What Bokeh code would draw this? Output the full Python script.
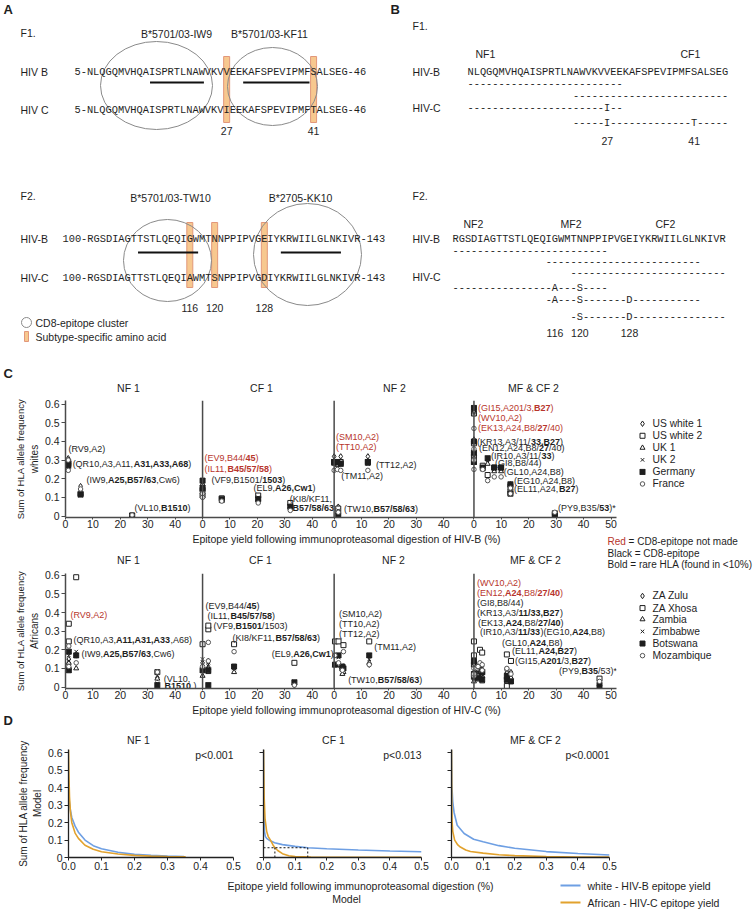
from bokeh.plotting import figure
from bokeh.layouts import column, row
from bokeh.models import (Range1d, LinearAxis, FixedTicker, NumeralTickFormatter,
                          Span, Label, ColumnDataSource)
from bokeh.core.properties import value
from bokeh.embed import file_html
from bokeh.resources import INLINE

# ============================================================ DATA
# Panel A / B : sequences (Gag fragments)
F1_START, F1_END = 5, 46
F1_HIVB = "NLQGQMVHQAISPRTLNAWVKVVEEKAFSPEVIPMFSALSEG"
F1_HIVC = "NLQGQMVHQAISPRTLNAWVKVIEEKAFSPEVIPMFTALSEG"
F2_START, F2_END = 100, 143
F2_HIVB = "RGSDIAGTTSTLQEQIGWMTNNPPIPVGEIYKRWIILGLNKIVR"
F2_HIVC = "RGSDIAGTTSTLQEQIAWMTSNPPIPVGDIYKRWIILGLNKIVR"

F1_EPITOPES = ["B*5701/03-IW9", "B*5701/03-KF11"]
F1_EPITOPE_RES = [(15, 23), (30, 40)]
F2_EPITOPES = ["B*5701/03-TW10", "B*2705-KK10"]
F2_EPITOPE_RES = [(108, 117), (131, 140)]

F1_FRAGMENTS = ["NF1", "CF1"]
F1_FRAGMENT_RES = [(5, 29), (22, 46)]
F2_FRAGMENTS = ["NF2", "MF2", "CF2"]
F2_FRAGMENT_RES = [(100, 124), (115, 139), (119, 143)]

# Panel C : segments and populations
SEGMENTS = ["NF 1", "CF 1", "NF 2", "MF & CF 2"]
SEG_TICKS = [[0, 10, 20, 30, 40], [0, 10, 20, 30, 40], [0, 10, 20, 30, 40], [0, 10, 20, 30, 40, 50]]
POPS_WHITE = ["US white 1", "US white 2", "UK 1", "UK 2", "Germany", "France"]
POPS_AFRICAN = ["ZA Zulu", "ZA Xhosa", "Zambia", "Zimbabwe", "Botswana", "Mozambique"]

# whites (HIV-B yields, %); rows = populations in POPS_WHITE order
W_NF1_EPI = ["RV9", "QR10", "IW9", "VL10"]
W_NF1_X = [1.0, 1.0, 5.5, 24.3]
W_NF1_Y = [[0.31, 0.28, 0.16, 0.003], [0.29, 0.28, 0.12, 0.003], [0.30, 0.27, 0.12, 0.0],
           [0.29, 0.27, 0.11, 0.002], [0.28, 0.27, 0.115, 0.002], [0.30, 0.245, 0.145, 0.005]]
W_CF1_EPI = ["EV9", "IL11", "VF9", "EL9", "KI8/KF11"]
W_CF1_X = [0.0, 0.0, 7.0, 20.3, 32.0]
W_CF1_Y = [[0.18, 0.12, 0.09, 0.08, 0.06], [0.14, 0.11, 0.095, 0.11, 0.07], [0.17, 0.13, 0.08, 0.09, 0.05],
           [0.16, 0.12, 0.085, 0.10, 0.04], [0.19, 0.15, 0.09, 0.09, 0.05], [0.12, 0.10, 0.08, 0.07, 0.03]]
W_NF2_EPI = ["SM10", "TT10", "TM11", "TT12", "TW10"]
W_NF2_X = [0.0, 1.2, 2.4, 12.3, 1.5]
W_NF2_Y = [[0.32, 0.29, 0.32, 0.32, 0.05], [0.29, 0.28, 0.29, 0.29, 0.04], [0.28, 0.29, 0.28, 0.28, 0.02],
           [0.29, 0.28, 0.29, 0.28, 0.03], [0.29, 0.29, 0.28, 0.29, 0.01], [0.245, 0.25, 0.245, 0.245, 0.02]]
W_MF_EPI = ["GI15", "WV10", "EK13", "KR13", "EN12", "IR10", "GI8", "GL10", "EG10", "EL11", "PY9"]
W_MF_X = [0.0, 0.0, 0.0, 0.0, 3.2, 5.0, 7.4, 9.9, 13.3, 13.3, 29.5]
W_MF_Y = [[0.57, 0.30, 0.33, 0.40, 0.26, 0.30, 0.25, 0.25, 0.17, 0.14, 0.01],
          [0.55, 0.29, 0.32, 0.39, 0.27, 0.22, 0.26, 0.26, 0.16, 0.13, 0.015],
          [0.56, 0.31, 0.35, 0.41, 0.25, 0.28, 0.24, 0.24, 0.15, 0.12, 0.005],
          [0.55, 0.30, 0.33, 0.40, 0.26, 0.31, 0.25, 0.25, 0.17, 0.13, 0.01],
          [0.58, 0.29, 0.34, 0.40, 0.26, 0.31, 0.26, 0.26, 0.17, 0.12, 0.005],
          [0.47, 0.25, 0.30, 0.36, 0.25, 0.19, 0.21, 0.21, 0.15, 0.12, 0.02]]

# Africans (HIV-C yields, %); rows = populations in POPS_AFRICAN order
A_NF1_EPI = ["RV9", "QR10", "IW9", "VL10"]
A_NF1_X = [1.2, 1.2, 3.9, 33.5]
A_NF1_Y = [[0.15, 0.12, 0.17, 0.05], [0.34, 0.245, 0.59, 0.08], [0.13, 0.10, 0.10, 0.045],
           [0.17, 0.14, 0.19, 0.02], [0.19, 0.09, 0.17, 0.01], [0.22, 0.11, 0.13, 0.08]]
A_CF1_EPI = ["EV9", "IL11", "VF9", "KI8/KF11", "EL9"]
A_CF1_X = [0.0, 2.1, 2.1, 11.5, 33.5]
A_CF1_Y = [[0.13, 0.10, 0.14, 0.10, 0.01], [0.23, 0.31, 0.33, 0.23, 0.13], [0.06, 0.08, 0.10, 0.08, 0.02],
           [0.15, 0.12, 0.13, 0.10, 0.03], [0.09, 0.01, 0.09, 0.11, 0.025], [0.11, 0.14, 0.24, 0.19, 0.01]]
A_NF2_EPI = ["SM10", "TT10", "TT12", "TM11", "TW10"]
A_NF2_X = [0.3, 1.6, 3.4, 12.8, 3.0]
A_NF2_Y = [[0.17, 0.12, 0.11, 0.12, 0.09], [0.245, 0.245, 0.225, 0.245, 0.10], [0.12, 0.12, 0.08, 0.13, 0.07],
           [0.17, 0.16, 0.11, 0.15, 0.10], [0.12, 0.17, 0.10, 0.17, 0.11], [0.17, 0.13, 0.19, 0.12, 0.09]]
A_MF_EPI = ["WV10", "EN12", "GI8", "KR13", "EK13", "IR10", "EG10", "GL10", "EL11", "GI15", "PY9"]
A_MF_X = [0.0, 0.0, 2.2, 0.0, 3.0, 1.5, 3.0, 12.0, 12.0, 13.5, 45.8]
A_MF_Y = [[0.15, 0.08, 0.10, 0.04, 0.09, 0.06, 0.05, 0.08, 0.02, 0.08, 0.03],
          [0.245, 0.17, 0.20, 0.12, 0.185, 0.10, 0.08, 0.175, 0.005, 0.14, 0.045],
          [0.12, 0.05, 0.08, 0.03, 0.06, 0.04, 0.03, 0.05, 0.03, 0.05, 0.015],
          [0.13, 0.09, 0.12, 0.05, 0.10, 0.08, 0.06, 0.07, 0.05, 0.06, 0.02],
          [0.14, 0.07, 0.11, 0.06, 0.08, 0.05, 0.04, 0.04, 0.06, 0.03, 0.01],
          [0.10, 0.06, 0.13, 0.07, 0.12, 0.11, 0.09, 0.095, 0.10, 0.07, 0.03]]

# Panel D : model curves (yield fraction vs summed allele frequency)
D_PANELS = ["NF 1", "CF 1", "MF & CF 2"]
D_PVALUES = ["p<0.001", "p<0.013", "p<0.0001"]
D_NF1_WHITE_X = [0.0, 0.002, 0.005, 0.01, 0.02, 0.03, 0.05, 0.075, 0.1, 0.15, 0.2, 0.25, 0.3, 0.35]
D_NF1_WHITE_Y = [0.37, 0.33, 0.28, 0.23, 0.18, 0.145, 0.10, 0.068, 0.05, 0.03, 0.018, 0.012, 0.008, 0.006]
D_NF1_AFR_X = [0.0, 0.001, 0.003, 0.006, 0.01, 0.02, 0.03, 0.05, 0.075, 0.1, 0.15, 0.2, 0.25, 0.3, 0.355]
D_NF1_AFR_Y = [0.62, 0.50, 0.35, 0.26, 0.20, 0.14, 0.11, 0.07, 0.047, 0.033, 0.02, 0.012, 0.008, 0.005, 0.004]
D_CF1_WHITE_X = [0.0, 0.001, 0.003, 0.006, 0.01, 0.02, 0.035, 0.06, 0.1, 0.14, 0.2, 0.3, 0.4, 0.5]
D_CF1_WHITE_Y = [0.62, 0.30, 0.15, 0.12, 0.11, 0.097, 0.085, 0.074, 0.064, 0.056, 0.05, 0.043, 0.037, 0.033]
D_CF1_AFR_X = [0.0, 0.002, 0.005, 0.01, 0.015, 0.02, 0.025, 0.03, 0.036, 0.045, 0.06, 0.08, 0.1, 0.15, 0.5]
D_CF1_AFR_Y = [0.62, 0.35, 0.22, 0.15, 0.12, 0.105, 0.09, 0.072, 0.056, 0.04, 0.022, 0.01, 0.005, 0.002, 0.0005]
D_MF_WHITE_X = [0.0, 0.001, 0.004, 0.008, 0.018, 0.04, 0.07, 0.1, 0.15, 0.2, 0.3, 0.4, 0.5]
D_MF_WHITE_Y = [0.62, 0.42, 0.32, 0.26, 0.185, 0.138, 0.105, 0.09, 0.068, 0.053, 0.034, 0.023, 0.014]
D_MF_AFR_X = [0.0, 0.001, 0.002, 0.004, 0.01, 0.02, 0.028, 0.045, 0.06, 0.1, 0.15, 0.2, 0.3, 0.4, 0.5]
D_MF_AFR_Y = [0.62, 0.30, 0.20, 0.15, 0.10, 0.072, 0.06, 0.043, 0.034, 0.025, 0.016, 0.011, 0.006, 0.003, 0.002]
D_CF1_CUT_Y = 0.056
D_CF1_CUT_X = [0.036, 0.14]

# ============================================================ STYLE
SANS = "Liberation Sans"
MONO = "Liberation Mono"
INK = "#1e1e1e"
RED = "#b7352c"
AXIS = "#4a4a4a"
GRAY = "#8a8a8a"
BAR_FILL = "#f7c88f"
BAR_LINE = "#e2977a"
BLUE = "#6e9fe3"
ORANGE = "#e2a22d"
SEQ_SIZE = 10.35
CW = 0.6 * SEQ_SIZE
POP_MARKERS = ["diamond", "square", "triangle", "x", "square_x", "circle"]
POP_SIZES = [5.5, 5, 5, 5, 5, 4.5]
POP_LINE = [INK, INK, INK, INK, INK, "#555555"]
SEG_OFFSET = [0, 50, 98, 149]
Y_TICKS = [0, 0.1, 0.2, 0.3, 0.4, 0.5, 0.6]

AR_R = {' ': 278, '%': 889, '(': 333, ')': 333, '*': 389, ',': 278, '-': 333, '.': 278, '/': 278,
        '<': 584, '=': 584, '&': 667}
AR_R.update({d: 556 for d in "0123456789"})
AR_R.update(dict(zip("ABCDEFGHIJKLMNOPQRSTUVWXYZ",
                     [667, 667, 722, 722, 667, 611, 778, 722, 278, 500, 667, 556, 833, 722, 778, 667, 778,
                      722, 667, 611, 722, 667, 944, 667, 667, 611])))
AR_R.update(dict(zip("abcdefghijklmnopqrstuvwxyz",
                     [556, 556, 500, 556, 556, 278, 556, 556, 222, 222, 500, 222, 833, 556, 556, 556, 556,
                      333, 500, 278, 556, 500, 722, 500, 500, 500])))
AR_B = dict(AR_R)
AR_B.update({'A': 722, 'B': 722, 'C': 722, 'w': 778, 'K': 722, 'L': 611})


def text_width(s, bold, size):
    t = AR_B if bold else AR_R
    return sum(t.get(c, 556) for c in s) * size / 1000.0


def canvas(x0, x1, y0, y1):
    p = figure(width=x1 - x0, height=y1 - y0, x_range=Range1d(x0, x1), y_range=Range1d(y1, y0),
               x_axis_location=None, y_axis_location=None, output_backend="svg",
               toolbar_location=None, min_border=0, outline_line_color=None)
    p.grid.visible = False
    return p


def put(p, x, y, s, size=10.5, align="left", bold=False, color=INK, font=SANS):
    p.text(x=[x], y=[y], text=[s], text_font=value(font), text_font_size=f"{size}px",
           text_align=align, text_baseline="middle", text_color=color,
           text_font_style="bold" if bold else "normal")


def put_rich(p, x, y, parts, size=10.5):
    off = 0.0
    for s, col, bold in parts:
        lead = len(s) - len(s.lstrip(" "))
        off += text_width(" " * lead, bold, size)
        s2 = s.lstrip(" ")
        put(p, x + off, y, s2, size, color=col, bold=bold)
        off += text_width(s2, bold, size)


def style_axis(ax, color=AXIS, lw=1.5, tick_out=4, label_size="10.5px"):
    ax.axis_line_color = color
    ax.axis_line_width = lw
    ax.major_tick_line_color = color
    ax.major_tick_line_width = 1
    ax.major_tick_out = tick_out
    ax.major_tick_in = 0
    ax.minor_tick_line_color = None
    ax.major_label_text_font = SANS
    ax.major_label_text_font_size = label_size
    ax.major_label_text_color = INK
    ax.axis_label_text_font = SANS
    ax.axis_label_text_font_style = "normal"
    ax.axis_label_text_font_size = "10px"
    ax.axis_label_text_color = INK


# ============================================================ PANELS A and B
ab = canvas(0, 754, 0, 396)
put(ab, 3, 9, "A", 13, bold=True)
put(ab, 390, 9, "B", 13, bold=True)

A_LAYOUT = [
    dict(head="F1.", head_y=32, x0=74, yb=71, yc=109, yu=82, bar=(56, 122), num_y=130, tit_y=33,
         tit_x=[176, 269], ell=[(156, 85, 112, 88), (272, 86, 90, 78)], lab_b="HIV B", lab_c="HIV C"),
    dict(head="F2.", head_y=195, x0=62, yb=238, yc=277, yu=252, bar=(222, 287), num_y=307, tit_y=197,
         tit_x=[170, 300], ell=[(167, 260, 88, 82), (307, 254, 108, 102)], lab_b="HIV-B", lab_c="HIV-C"),
]
A_SEQS = [(F1_START, F1_END, F1_HIVB, F1_HIVC, F1_EPITOPES, F1_EPITOPE_RES),
          (F2_START, F2_END, F2_HIVB, F2_HIVC, F2_EPITOPES, F2_EPITOPE_RES)]

for L, (start, end, sb, sc, enames, eres) in zip(A_LAYOUT, A_SEQS):
    pre = len(f"{start}-")
    variants = [start + i for i, (b, c) in enumerate(zip(sb, sc)) if b != c]
    vx = [L["x0"] + (pre + r - start + 0.5) * CW for r in variants]
    ab.quad(left=[x - 3 for x in vx], right=[x + 3 for x in vx], top=[L["bar"][0]] * len(vx),
            bottom=[L["bar"][1]] * len(vx), fill_color=BAR_FILL, line_color=BAR_LINE, line_width=1)
    ab.ellipse(x=[e[0] for e in L["ell"]], y=[e[1] for e in L["ell"]], width=[e[2] for e in L["ell"]],
               height=[e[3] for e in L["ell"]], fill_color=None, line_color=GRAY, line_width=1)
    put(ab, 20, L["head_y"], L["head"])
    for nm, tx in zip(enames, L["tit_x"]):
        put(ab, tx, L["tit_y"], nm, align="center")
    put(ab, 20, L["yb"], L["lab_b"])
    put(ab, 20, L["yc"], L["lab_c"])
    put(ab, L["x0"], L["yb"], f"{start}-{sb}-{end}", SEQ_SIZE, font=MONO)
    put(ab, L["x0"], L["yc"], f"{start}-{sc}-{end}", SEQ_SIZE, font=MONO)
    ab.segment(x0=[L["x0"] + (pre + r0 - start) * CW + 1 for r0, r1 in eres], y0=[L["yu"]] * len(eres),
               x1=[L["x0"] + (pre + r1 - start + 1) * CW - 1 for r0, r1 in eres], y1=[L["yu"]] * len(eres),
               line_color="#111111", line_width=2)
    for r, x in zip(variants, vx):
        put(ab, x, L["num_y"], str(r), align="center")

# legend of panel A
ab.ellipse(x=[26], y=[322], width=[10], height=[10], fill_color=None, line_color=GRAY, line_width=1)
put(ab, 35, 322, "CD8-epitope cluster")
ab.quad(left=[24], right=[28], top=[331], bottom=[341], fill_color=BAR_FILL, line_color=BAR_LINE)
put(ab, 35, 336, "Subtype-specific amino acid")

B_LAYOUT = [
    dict(head="F1.", head_y=25, x0=467, seq_y=71, fl_x=[475, 680], fl_y=53, b_rows=[83, 95],
         c_lab_y=107, c_rows=[107, 122], num_y=140),
    dict(head="F2.", head_y=195, x0=452, seq_y=238, fl_x=[463, 560, 655], fl_y=223, b_rows=[250, 261, 272],
         c_lab_y=276, c_rows=[287, 299, 316], num_y=332),
]
B_SEQS = [(F1_START, F1_HIVB, F1_HIVC, F1_FRAGMENTS, F1_FRAGMENT_RES),
          (F2_START, F2_HIVB, F2_HIVC, F2_FRAGMENTS, F2_FRAGMENT_RES)]
for L, (start, sb, sc, fnames, fres) in zip(B_LAYOUT, B_SEQS):
    put(ab, 412, L["head_y"], L["head"])
    for nm, fx in zip(fnames, L["fl_x"]):
        put(ab, fx, L["fl_y"], nm)
    put(ab, 412, L["seq_y"], "HIV-B")
    put(ab, L["x0"], L["seq_y"], sb, SEQ_SIZE, font=MONO)
    put(ab, 412, L["c_lab_y"], "HIV-C")
    for (r0, r1), yb, yc in zip(fres, L["b_rows"], L["c_rows"]):
        i0, i1 = r0 - start, r1 - start + 1
        put(ab, L["x0"] + i0 * CW, yb, "-" * (i1 - i0), SEQ_SIZE, font=MONO)
        pat = "".join("-" if b == c else c for b, c in zip(sb[i0:i1], sc[i0:i1]))
        put(ab, L["x0"] + i0 * CW, yc, pat, SEQ_SIZE, font=MONO)
    variants = [start + i for i, (b, c) in enumerate(zip(sb, sc)) if b != c]
    for r in variants:
        put(ab, L["x0"] + (r - start + 0.5) * CW, L["num_y"], str(r), align="center")

# panel C header
put(ab, 3, 373, "C", 13, bold=True)
for nm, tx in zip(SEGMENTS, [128, 261, 394, 533]):
    put(ab, tx, 387, nm, align="center")

# ============================================================ PANEL C plots
TOP_LABELS = [
    (0, 1.1, 0.36, "k", [("(RV9,A2)", 0)]),
    (0, 2.6, 0.279, "k", [("(QR10,A3,A11,", 0), ("A31,A33,A68", 1), (")", 0)]),
    (0, 7.7, 0.193, "k", [("(IW9,", 0), ("A25,B57/63", 1), (",Cw6)", 0)]),
    (0, 25.2, 0.043, "k", [("(VL10,", 0), ("B1510", 1), (")", 0)]),
    (1, 0.7, 0.31, "r", [("(EV9,B44/", 0), ("45", 1), (")", 0)]),
    (1, 0.7, 0.252, "r", [("(IL11,", 0), ("B45/57/58", 1), (")", 0)]),
    (1, 3.3, 0.193, "k", [("(VF9,B1501/", 0), ("1503", 1), (")", 0)]),
    (1, 18.6, 0.15, "k", [("(EL9,", 0), ("A26,Cw1", 1), (")", 0)]),
    (1, 31.8, 0.091, "k", [("(KI8/KF11,", 0)]),
    (1, 32.8, 0.043, "k", [("B57/58/63", 1)]),
    (2, 0.7, 0.423, "r", [("(SM10,A2)", 0)]),
    (2, 0.7, 0.37, "r", [("(TT10,A2)", 0)]),
    (2, 2.6, 0.214, "k", [("(TM11,A2)", 0)]),
    (2, 15.3, 0.273, "k", [("(TT12,A2)", 0)]),
    (2, 3.6, 0.037, "k", [("(TW10,", 0), ("B57/58/63", 1), (")", 0)]),
    (3, 1.5, 0.578, "r", [("(GI15,A201/3,", 0), ("B27", 1), (")", 0)]),
    (3, 1.5, 0.525, "r", [("(WV10,A2)", 0)]),
    (3, 1.5, 0.471, "r", [("(EK13,A24,B8/", 0), ("27", 1), ("/40)", 0)]),
    (3, 1.1, 0.396, "k", [("(KR13,A3/11/", 0), ("33,B27", 1), (")", 0)]),
    (3, 1.8, 0.366, "k", [("(EN12,A24,B8/", 0), ("27", 1), ("/40)", 0)]),
    (3, 6.2, 0.321, "k", [("(IR10,A3/11/", 0), ("33", 1), (")", 0)]),
    (3, 7.7, 0.284, "k", [("(GI8,B8/44)", 0)]),
    (3, 10.9, 0.236, "k", [("(GL10,A24,B8)", 0)]),
    (3, 14.6, 0.187, "k", [("(EG10,A24,B8)", 0)]),
    (3, 14.6, 0.145, "k", [("(EL11,A24,", 0), ("B27", 1), (")", 0)]),
    (3, 30.7, 0.043, "k", [("(PY9,B35/", 0), ("53", 1), (")*", 0)]),
]
BOT_LABELS = [
    (0, 1.8, 0.388, "r", [("(RV9,A2)", 0)]),
    (0, 2.9, 0.255, "k", [("(QR10,A3,", 0), ("A11,A31,A33", 1), (",A68)", 0)]),
    (0, 5.8, 0.176, "k", [("(IW9,", 0), ("A25,B57/63", 1), (",Cw6)", 0)]),
    (0, 35.8, 0.043, "k", [("(VL10,", 0)]),
    (0, 36.1, 0.008, "k", [("B1510", 1), (",)", 0)]),
    (1, 1.1, 0.436, "k", [("(EV9,B44/", 0), ("45", 1), (")", 0)]),
    (1, 1.8, 0.383, "k", [("(IL11,", 0), ("B45/57/58", 1), (")", 0)]),
    (1, 4.0, 0.33, "k", [("(VF9,", 0), ("B1501", 1), ("/1503)", 0)]),
    (1, 10.9, 0.266, "k", [("(KI8/KF11,", 0), ("B57/58/63", 1), (")", 0)]),
    (1, 25.2, 0.176, "k", [("(EL9,", 0), ("A26,Cw1", 1), (")", 0)]),
    (2, 1.8, 0.394, "k", [("(SM10,A2)", 0)]),
    (2, 1.8, 0.34, "k", [("(TT10,A2)", 0)]),
    (2, 1.8, 0.287, "k", [("(TT12,A2)", 0)]),
    (2, 14.6, 0.213, "k", [("(TM11,A2)", 0)]),
    (2, 5.1, 0.037, "k", [("(TW10,", 0), ("B57/58/63", 1), (")", 0)]),
    (3, 1.1, 0.559, "r", [("(WV10,A2)", 0)]),
    (3, 1.1, 0.505, "r", [("(EN12,", 0), ("A24", 1), (",B8/", 0), ("27/40", 1), (")", 0)]),
    (3, 1.1, 0.452, "k", [("(GI8,B8/44)", 0)]),
    (3, 1.1, 0.399, "k", [("(KR13,A3/", 0), ("11/33,B27", 1), (")", 0)]),
    (3, 1.5, 0.346, "k", [("(EK13,", 0), ("A24", 1), (",B8/", 0), ("27/40", 1), (")", 0)]),
    (3, 2.2, 0.293, "k", [("(IR10,A3/", 0), ("11/33", 1), (")(EG10,", 0), ("A24", 1), (",B8)", 0)]),
    (3, 10.2, 0.239, "k", [("(GL10,", 0), ("A24", 1), (",B8)", 0)]),
    (3, 13.9, 0.191, "k", [("(EL11,", 0), ("A24,B27", 1), (")", 0)]),
    (3, 15.0, 0.138, "k", [("(GI15,", 0), ("A201", 1), ("/3,", 0), ("B27", 1), (")", 0)]),
    (3, 31.0, 0.085, "k", [("(PY9,", 0), ("B35", 1), ("/53)*", 0)]),
]


def marker_style(j):
    m = POP_MARKERS[j]
    return dict(marker=m, size=POP_SIZES[j], fill_color=INK if m == "square_x" else "white",
                line_color=POP_LINE[j], line_width=1)


def scatter_pops(p, seg_x, seg_y):
    for j in range(6):
        xs, ys = [], []
        for k in range(4):
            xs += [SEG_OFFSET[k] + x for x in seg_x[k]]
            ys += seg_y[k][j]
        p.scatter(x=xs, y=ys, **marker_style(j))


def make_c(height, btop, ytop, seg_x, seg_y, labels, group):
    p = figure(width=620, height=height, x_range=Range1d(0, 201), y_range=Range1d(-0.008, ytop),
               output_backend="svg", toolbar_location=None, min_border_left=65, min_border_right=4,
               min_border_top=btop, min_border_bottom=15, outline_line_color=None)
    p.grid.visible = False
    xa = p.xaxis[0]
    ticks, over = [], {}
    for off, tl in zip(SEG_OFFSET, SEG_TICKS):
        for t in tl:
            ticks.append(off + t)
            over[off + t] = str(t)
    xa.ticker = FixedTicker(ticks=ticks)
    xa.major_label_overrides = over
    style_axis(xa, tick_out=2)
    xa.major_label_standoff = 0
    ya = p.yaxis[0]
    ya.ticker = FixedTicker(ticks=Y_TICKS)
    ya.formatter = NumeralTickFormatter(format="0.[0]")
    style_axis(ya)
    ya.major_label_standoff = 2
    ya.axis_label = group
    ya.axis_label_standoff = 2
    ax2 = LinearAxis(ticker=FixedTicker(ticks=[]), axis_label="Sum of HLA allele frequency")
    style_axis(ax2, tick_out=0)
    ax2.axis_line_color = None
    ax2.axis_label_text_font_size = "9.5px"
    ax2.axis_label_standoff = 0
    ax2.major_label_standoff = 0
    p.add_layout(ax2, "left")
    for off in SEG_OFFSET[1:]:
        p.add_layout(Span(location=off, dimension="height", line_color=AXIS, line_width=1.5))
    scatter_pops(p, seg_x, seg_y)
    xs, ys, tx, xo, cl, st = [], [], [], [], [], []
    for seg, lx, ly, col, parts in labels:
        off = 0.0
        for s, b in parts:
            xs.append(SEG_OFFSET[seg] + lx)
            ys.append(ly)
            tx.append(s)
            xo.append(off)
            cl.append(RED if col == "r" else INK)
            st.append("bold" if b else "normal")
            off += text_width(s, b, 9)
    src = ColumnDataSource(dict(x=xs, y=ys, text=tx, xo=xo, clr=cl, sty=st))
    p.text(x="x", y="y", text="text", x_offset="xo", text_color="clr", text_font_style="sty",
           text_font=value(SANS), text_font_size="9px", text_align="left", text_baseline="middle",
           source=src)
    return p


c_top = make_c(136, 4, 0.62, [W_NF1_X, W_CF1_X, W_NF2_X, W_MF_X],
               [W_NF1_Y, W_CF1_Y, W_NF2_Y, W_MF_Y], TOP_LABELS, "whites")
c_bot = make_c(133, 3, 0.61, [A_NF1_X, A_CF1_X, A_NF2_X, A_MF_X],
               [A_NF1_Y, A_CF1_Y, A_NF2_Y, A_MF_Y], BOT_LABELS, "Africans")


def legend_canvas(y0, y1, names, row_y):
    p = canvas(620, 754, y0, y1)
    for j, (nm, yy) in enumerate(zip(names, row_y)):
        p.scatter(x=[642], y=[yy], **marker_style(j))
        put(p, 652, yy, nm, 10.3)
    return p


side_top = legend_canvas(396, 532, POPS_WHITE, [423, 437, 451, 465, 479, 493])
side_bot = legend_canvas(570, 703, POPS_AFRICAN, [596, 610, 623, 637, 651, 665])

gap = canvas(0, 754, 532, 570)
put(gap, 346, 538, "Epitope yield following immunoproteasomal digestion of HIV-B (%)", align="center")
NOTES = [[("Red", RED, False), (" = CD8-epitope not made", INK, False)],
         [("Black = CD8-epitope", INK, False)],
         [("Bold = rare HLA (found in <10%)", INK, False)]]
for parts, yy in zip(NOTES, [541, 553, 564]):
    put_rich(gap, 607, yy, parts, 10)
for nm, tx in zip(SEGMENTS, [128, 260, 393, 535]):
    put(gap, tx, 559, nm, align="center")

mid = canvas(0, 754, 703, 727)
put(mid, 346, 709, "Epitope yield following immunoproteasomal digestion of HIV-C (%)", align="center")
put(mid, 3, 720, "D", 13, bold=True)

# ============================================================ PANEL D
D_CURVES = [(D_NF1_WHITE_X, D_NF1_WHITE_Y, D_NF1_AFR_X, D_NF1_AFR_Y),
            (D_CF1_WHITE_X, D_CF1_WHITE_Y, D_CF1_AFR_X, D_CF1_AFR_Y),
            (D_MF_WHITE_X, D_MF_WHITE_Y, D_MF_AFR_X, D_MF_AFR_Y)]
D_WIDTHS = [243, 188, 188]
D_BLEFT = [68, 20, 20]
d_figs = []
for i, (title, pv, (wx, wy, axx, ayy)) in enumerate(zip(D_PANELS, D_PVALUES, D_CURVES)):
    p = figure(width=D_WIDTHS[i], height=148, x_range=Range1d(0, 0.5), y_range=Range1d(0, 0.62),
               output_backend="svg", toolbar_location=None, min_border_left=D_BLEFT[i],
               min_border_right=10, min_border_top=20, min_border_bottom=18, outline_line_color=None)
    p.grid.visible = False
    p.title.text = title
    p.title.align = "left"
    p.title.offset = 58.6
    p.title.standoff = 8
    p.title.text_font = SANS
    p.title.text_font_style = "normal"
    p.title.text_font_size = "10.5px"
    p.title.text_color = INK
    xa = p.xaxis[0]
    xa.ticker = FixedTicker(ticks=[0, 0.1, 0.2, 0.3, 0.4, 0.5])
    xa.formatter = NumeralTickFormatter(format="0.0")
    style_axis(xa, color="#222222", lw=1.3, tick_out=3)
    xa.major_label_standoff = 1
    ya = p.yaxis[0]
    style_axis(ya, color="#222222", lw=1.3, tick_out=4)
    if i == 0:
        ya.ticker = FixedTicker(ticks=Y_TICKS)
        ya.formatter = NumeralTickFormatter(format="0.[0]")
        ya.major_label_standoff = 2
        ya.axis_label = "Model"
        ya.axis_label_standoff = 2
        ax2 = LinearAxis(ticker=FixedTicker(ticks=[]), axis_label="Sum of HLA allele frequency")
        style_axis(ax2, tick_out=0)
        ax2.axis_line_color = None
        ax2.axis_label_standoff = 0
        ax2.major_label_standoff = 0
        p.add_layout(ax2, "left")
    else:
        # unlabeled ticks: drawn as minor ticks of the same scale
        ya.ticker = FixedTicker(ticks=[], minor_ticks=Y_TICKS)
        ya.minor_tick_line_color = "#222222"
        ya.minor_tick_line_width = 1
        ya.minor_tick_out = 4
        ya.minor_tick_in = 0
        ya.major_label_standoff = 0
    p.line(wx, wy, line_color=BLUE, line_width=1.6)
    p.line(axx, ayy, line_color=ORANGE, line_width=1.6)
    if i == 1:
        p.segment(x0=[0] + D_CF1_CUT_X, y0=[D_CF1_CUT_Y, 0, 0],
                  x1=[max(D_CF1_CUT_X)] + D_CF1_CUT_X, y1=[D_CF1_CUT_Y] * 3,
                  line_color="#111111", line_width=1, line_dash="2 2")
    p.add_layout(Label(x=0.5, y=0.59, text=pv, text_align="right", text_baseline="middle",
                       text_font=SANS, text_font_size="10.5px", text_color=INK))
    d_figs.append(p)

bottom = canvas(0, 754, 875, 909)
put(bottom, 360, 885, "Epitope yield following immunoproteasomal digestion (%)", align="center")
put(bottom, 346, 898, "Model", align="center")
LEGEND_D = ["white - HIV-B epitope yield", "African - HIV-C epitope yield"]
for nm, col, yy in zip(LEGEND_D, [BLUE, ORANGE], [885, 902]):
    bottom.line(x=[560, 580], y=[yy, yy], line_color=col, line_width=2)
    put(bottom, 587, yy, nm)

layout = column(
    ab,
    row(c_top, side_top, spacing=0),
    gap,
    row(c_bot, side_bot, spacing=0),
    mid,
    row(*d_figs, spacing=0),
    bottom,
    spacing=0,
)

open("out.html", "w").write(file_html(layout, INLINE))
